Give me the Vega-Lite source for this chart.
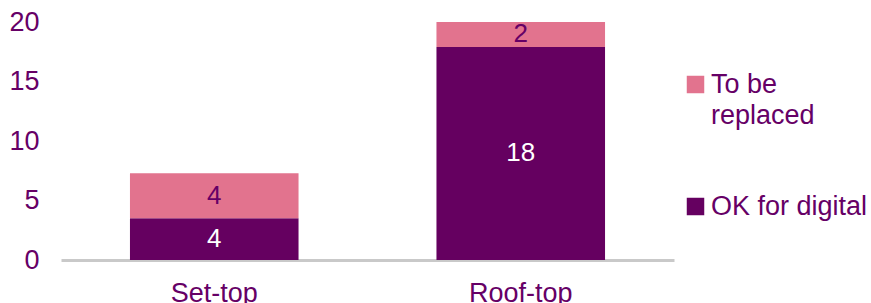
{
  "$schema": "https://vega.github.io/schema/vega-lite/v6.json",
  "width": 613,
  "height": 238,
  "autosize": {"type": "none"},
  "padding": {"left": 61, "top": 22, "right": 197, "bottom": 43},
  "background": "white",
  "config": {
    "view": {"stroke": null},
    "font": "Liberation Sans",
    "text": {"font": "Liberation Sans"}
  },
  "data": {
    "values": [
      {"type": "Set-top", "status": "OK for digital", "count": 3.5},
      {"type": "Set-top", "status": "To be replaced", "count": 3.8},
      {"type": "Roof-top", "status": "OK for digital", "count": 17.9},
      {"type": "Roof-top", "status": "To be replaced", "count": 2.1}
    ]
  },
  "encoding": {
    "x": {
      "field": "type",
      "type": "nominal",
      "sort": ["Set-top", "Roof-top"],
      "scale": {"paddingInner": 0.45, "paddingOuter": 0.225},
      "axis": {
        "title": null,
        "labelAngle": 0,
        "labelFontSize": 27,
        "labelColor": "#660066",
        "labelFont": "Liberation Sans",
        "labelPadding": 20,
        "ticks": false,
        "tickSize": 0,
        "domainColor": "#c9c9c9",
        "domainWidth": 3
      }
    },
    "y": {
      "field": "count",
      "type": "quantitative",
      "stack": "zero",
      "scale": {"domain": [0, 20], "nice": false},
      "axis": {
        "title": null,
        "values": [0, 5, 10, 15, 20],
        "grid": false,
        "domain": false,
        "ticks": false,
        "tickSize": 0,
        "labelPadding": 22,
        "labelFontSize": 27,
        "labelColor": "#660066",
        "labelFont": "Liberation Sans"
      }
    },
    "order": {"field": "status", "sort": "ascending"}
  },
  "layer": [
    {
      "mark": {"type": "bar"},
      "encoding": {
        "color": {
          "field": "status",
          "type": "nominal",
          "scale": {
            "domain": ["To be replaced", "OK for digital"],
            "range": ["#e2738e", "#650060"]
          },
          "legend": {
            "title": null,
            "orient": "none",
            "legendX": 621,
            "legendY": 49,
            "symbolType": "square",
            "symbolSize": 306,
            "symbolStrokeWidth": 0,
            "symbolOpacity": 1,
            "labelFontSize": 27,
            "labelFont": "Liberation Sans",
            "labelColor": "#660066",
            "labelOffset": 2,
            "labelLimit": 300,
            "rowPadding": 63,
            "labelExpr": "datum.label == 'To be replaced' ? ['To be', 'replaced'] : datum.label",
            "encode": {
              "labels": {"update": {"lineHeight": {"value": 31}}}
            }
          }
        }
      }
    },
    {
      "mark": {"type": "text", "fontSize": 26, "font": "Liberation Sans", "baseline": "middle"},
      "encoding": {
        "y": {"field": "count", "type": "quantitative", "stack": "zero", "bandPosition": 0.5},
        "text": {"field": "count", "type": "quantitative", "format": ".0f"},
        "color": {
          "condition": {"test": "datum.status == 'OK for digital'", "value": "white"},
          "value": "#660066"
        }
      }
    }
  ]
}
